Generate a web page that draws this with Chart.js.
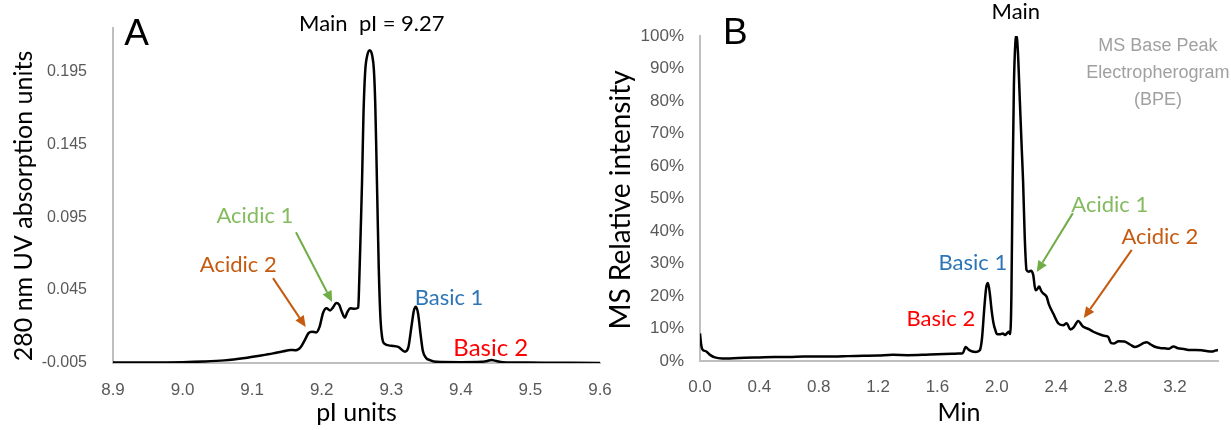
<!DOCTYPE html>
<html>
<head>
<meta charset="utf-8">
<script src="https://cdn.jsdelivr.net/npm/chart.js@4.4.0/dist/chart.umd.min.js"></script>
<style>
  body { margin: 0; background: #fff; }
  #chartA { position: absolute; left: 0; top: 0; }
  #chartB { position: absolute; left: 595px; top: 0; }
</style>
</head>
<body>
<canvas id="chartA" width="615" height="430"></canvas>
<canvas id="chartB" width="636" height="430"></canvas>
<script>
// ---- panel A : UV trace vs pI ----
const pIUnits = [8.900, 8.950, 9.000, 9.030, 9.060, 9.090, 9.110, 9.130, 9.145, 9.155, 9.163, 9.170, 9.176, 9.181,
  9.186, 9.192, 9.197, 9.202, 9.207, 9.212, 9.216, 9.221, 9.225, 9.229, 9.233, 9.237, 9.241, 9.247,
  9.2525, 9.2540, 9.2560, 9.2580, 9.2600, 9.2625, 9.2655, 9.2690, 9.2725, 9.2750, 9.2770, 9.2785,
  9.2800, 9.2820, 9.2845, 9.2870, 9.2895, 9.300, 9.310, 9.3195, 9.3243, 9.3290, 9.3325, 9.3353, 9.3385,
  9.3420, 9.3455, 9.3500, 9.3555, 9.3650, 9.400, 9.430, 9.438, 9.444, 9.451, 9.460, 9.480, 9.520,
  9.560, 9.600];
const uvAbsorbance = [-0.0046, -0.0046, -0.0044, -0.0040, -0.0032, -0.0015, 0.0000, 0.0016, 0.0030, 0.0040, 0.0037, 0.0060, 0.0110, 0.0155,
  0.0165, 0.0160, 0.0200, 0.0295, 0.0325, 0.0310, 0.0330, 0.0362, 0.0350, 0.0300, 0.0262, 0.0300, 0.0325, 0.0322,
  0.0330, 0.0520, 0.0850, 0.1200, 0.1650, 0.1950, 0.2060, 0.2095, 0.2060, 0.1960, 0.1720, 0.1400,
  0.1050, 0.0600, 0.0250, 0.0120, 0.0085, 0.0068, 0.0060, 0.0028, 0.0053, 0.0200, 0.0310, 0.0336, 0.0290,
  0.0150, 0.0030, -0.0015, -0.0030, -0.0042, -0.0044, -0.0042, -0.0036, -0.0030, -0.0036, -0.0044, -0.0046, -0.0048,
  -0.0049, -0.0050];
const pITicks = [8.9, 9.0, 9.1, 9.2, 9.3, 9.4, 9.5, 9.6];
const uvTicks = [-0.005, 0.045, 0.095, 0.145, 0.195];

// ---- panel B : MS base peak vs time ----
const minutes = [0.000, 0.008, 0.016, 0.040, 0.070, 0.100, 0.150, 0.200, 0.300, 0.400, 0.500, 0.600, 0.700, 0.800,
  0.900, 1.000, 1.100, 1.200, 1.300, 1.400, 1.500, 1.600, 1.700, 1.740, 1.770, 1.790, 1.810, 1.830,
  1.860, 1.885, 1.900, 1.915, 1.928, 1.940, 1.952, 1.965, 1.978, 1.990, 2.000, 2.020, 2.040, 2.055,
  2.070, 2.080, 2.090, 2.098, 2.106, 2.115, 2.125, 2.133, 2.142, 2.155, 2.168, 2.177, 2.188, 2.200,
  2.215, 2.230, 2.245, 2.260, 2.270, 2.285, 2.300, 2.312, 2.335, 2.350, 2.380, 2.413, 2.447, 2.470,
  2.496, 2.520, 2.548, 2.580, 2.620, 2.650, 2.705, 2.730, 2.750, 2.770, 2.790, 2.820, 2.860, 2.900,
  2.930, 2.960, 2.990, 3.010, 3.040, 3.070, 3.100, 3.130, 3.160, 3.190, 3.220, 3.260, 3.300, 3.340,
  3.380, 3.420, 3.450, 3.470, 3.490];
const msIntensity = [8.5, 5.0, 3.6, 3.0, 1.8, 1.1, 0.8, 0.8, 1.0, 1.1, 1.2, 1.2, 1.4, 1.4,
  1.4, 1.5, 1.6, 1.7, 1.9, 1.8, 1.9, 2.1, 2.2, 2.3, 2.4, 4.3, 3.5, 3.0,
  2.8, 3.3, 7.0, 16.0, 22.5, 24.0, 21.0, 15.5, 11.5, 9.5, 8.3, 8.2, 8.5, 8.0,
  8.6, 9.0, 8.3, 20.0, 55.0, 85.0, 98.0, 100.0, 95.0, 80.0, 65.0, 55.0, 38.0, 28.0,
  27.5, 27.8, 26.5, 21.8, 22.0, 22.9, 21.5, 20.8, 19.8, 17.5, 14.6, 11.6, 11.0, 11.6,
  9.7, 10.5, 12.3, 10.6, 9.8, 9.0, 8.0, 7.7, 7.4, 5.5, 5.4, 6.1, 6.0, 5.0,
  4.3, 4.8, 5.6, 5.8, 5.0, 4.3, 4.0, 3.9, 3.8, 4.5, 3.9, 3.7, 3.4, 3.4,
  3.3, 3.0, 2.9, 3.2, 3.4];
const minTicks = [0.0, 0.4, 0.8, 1.2, 1.6, 2.0, 2.4, 2.8, 3.2];
const pctTicks = [0, 10, 20, 30, 40, 50, 60, 70, 80, 90, 100];

const GREEN = '#84bb5f', ORANGE = '#c55a11', BLUE = '#2e75b6', RED = '#ff0000';
const LATO = 'Lato, "Noto Sans", sans-serif';
const ARIAL = '"Liberation Sans", Arial, sans-serif';

function drawArrow(ctx, x1, y1, x2, y2, color) {
  const ang = Math.atan2(y2 - y1, x2 - x1), head = 11, wing = 5;
  const bx = x2 - head * Math.cos(ang), by = y2 - head * Math.sin(ang);
  ctx.strokeStyle = color; ctx.fillStyle = color; ctx.lineWidth = 2;
  ctx.beginPath(); ctx.moveTo(x1, y1); ctx.lineTo(bx, by); ctx.stroke();
  ctx.beginPath();
  ctx.moveTo(x2, y2);
  ctx.lineTo(bx + wing * Math.sin(ang), by - wing * Math.cos(ang));
  ctx.lineTo(bx - wing * Math.sin(ang), by + wing * Math.cos(ang));
  ctx.closePath(); ctx.fill();
}

// labels + arrows placed in data units, axis title in pixels
const annotate = {
  id: 'annotate',
  afterDraw(chart, args, opts) {
    const { ctx, scales: { x, y } } = chart;
    ctx.save();
    ctx.textBaseline = 'middle';
    (opts.labels || []).forEach(l => {
      ctx.font = l.font; ctx.fillStyle = l.color; ctx.textAlign = l.align || 'center';
      ctx.fillText(l.text, x.getPixelForValue(l.x), y.getPixelForValue(l.y));
    });
    (opts.arrows || []).forEach(a => {
      drawArrow(ctx, x.getPixelForValue(a.from[0]), y.getPixelForValue(a.from[1]),
        x.getPixelForValue(a.to[0]), y.getPixelForValue(a.to[1]), a.color);
    });
    if (opts.yTitle) {
      const t = opts.yTitle;
      ctx.translate(t.cx, t.cy); ctx.rotate(-Math.PI / 2);
      ctx.font = t.font; ctx.fillStyle = '#000'; ctx.textAlign = 'center';
      ctx.fillText(t.text, 0, 0);
    }
    ctx.restore();
  }
};

function xyPoints(xs, ys) {
  return xs.map((v, i) => ({ x: v, y: ys[i] }));
}

function baseScale(ticks, fmt, size, pad) {
  return {
    type: 'linear',
    afterBuildTicks: s => { s.ticks = ticks.map(v => ({ value: v })); },
    grid: { display: false },
    border: { color: '#bfbfbf', width: 2 },
    ticks: { color: '#595959', font: { family: ARIAL, size: size }, padding: pad,
      autoSkip: false, maxRotation: 0, callback: fmt }
  };
}

// panel A
const xA = baseScale(pITicks, v => v.toFixed(1), 17, 9);
xA.min = 8.9; xA.max = 9.6;
xA.afterFit = s => { s.height = 67; s.paddingLeft = 0; s.paddingRight = 0; };
xA.title = { display: true, text: 'pI units', color: '#000', font: { family: LATO, size: 25 }, padding: { top: 0, bottom: 2 } };
const yA = baseScale(uvTicks, v => v.toFixed(3), 16, 18);
yA.min = -0.005; yA.max = 0.225;
yA.afterFit = s => { s.width = 113; };

new Chart(document.getElementById('chartA'), {
  type: 'line',
  data: { datasets: [{ data: xyPoints(pIUnits, uvAbsorbance), borderColor: '#000', borderWidth: 2.5,
    pointRadius: 0, cubicInterpolationMode: 'monotone', fill: false }] },
  options: {
    responsive: false, animation: false,
    layout: { padding: { left: 0, right: 15, top: 26, bottom: 0 } },
    scales: { x: xA, y: yA },
    plugins: {
      legend: { display: false }, tooltip: { enabled: false },
      annotate: {
        labels: [
          { text: 'A', x: 8.916, y: 0.2203, font: '37px ' + ARIAL, color: '#000', align: 'left' },
          { text: 'Main  pI = 9.27', x: 9.272, y: 0.2275, font: '22px ' + LATO, color: '#000' },
          { text: 'Acidic 1', x: 9.104, y: 0.0957, font: '22px ' + LATO, color: GREEN },
          { text: 'Acidic 2', x: 9.080, y: 0.0621, font: '22px ' + LATO, color: ORANGE },
          { text: 'Basic 1', x: 9.383, y: 0.0395, font: '22px ' + LATO, color: BLUE },
          { text: 'Basic 2', x: 9.443, y: 0.0053, font: '24px ' + LATO, color: RED }
        ],
        arrows: [
          { from: [9.163, 0.0847], to: [9.215, 0.0368], color: '#70ad47' },
          { from: [9.130, 0.0532], to: [9.177, 0.0197], color: ORANGE }
        ],
        yTitle: { text: '280 nm UV absorption units', cx: 24, cy: 206, font: '25px ' + LATO }
      }
    }
  },
  plugins: [annotate]
});

// panel B
const xB = baseScale(minTicks, v => v.toFixed(1), 17, 8);
xB.min = 0; xB.max = 3.49;
xB.afterFit = s => { s.height = 69; s.paddingLeft = 0; s.paddingRight = 0; };
xB.title = { display: true, text: 'Min', color: '#000', font: { family: LATO, size: 25 }, padding: { top: 0, bottom: 2 } };
const yB = baseScale(pctTicks, v => v + '%', 17, 8);
yB.min = 0; yB.max = 100;
yB.afterFit = s => { s.width = 105; };

new Chart(document.getElementById('chartB'), {
  type: 'line',
  data: { datasets: [{ data: xyPoints(minutes, msIntensity), borderColor: '#000', borderWidth: 2.5,
    pointRadius: 0, cubicInterpolationMode: 'monotone', fill: false }] },
  options: {
    responsive: false, animation: false,
    layout: { padding: { left: 0, right: 13, top: 36, bottom: 0 } },
    scales: { x: xB, y: yB },
    plugins: {
      legend: { display: false }, tooltip: { enabled: false },
      annotate: {
        labels: [
          { text: 'B', x: 0.155, y: 100.6, font: '37px ' + ARIAL, color: '#000', align: 'left' },
          { text: 'Main', x: 2.128, y: 107.4, font: '22px ' + LATO, color: '#000' },
          { text: 'MS Base Peak', x: 3.085, y: 97.0, font: '18px ' + ARIAL, color: '#a0a0a0' },
          { text: 'Electropherogram', x: 3.085, y: 88.5, font: '18px ' + ARIAL, color: '#a0a0a0' },
          { text: '(BPE)', x: 3.085, y: 80.3, font: '18px ' + ARIAL, color: '#a0a0a0' },
          { text: 'Acidic 1', x: 2.761, y: 48.0, font: '22px ' + LATO, color: GREEN },
          { text: 'Acidic 2', x: 3.098, y: 38.2, font: '22px ' + LATO, color: ORANGE },
          { text: 'Basic 1', x: 1.838, y: 30.2, font: '22px ' + LATO, color: BLUE },
          { text: 'Basic 2', x: 1.623, y: 12.9, font: '22px ' + LATO, color: RED }
        ],
        arrows: [
          { from: [2.512, 45.5], to: [2.269, 27.4], color: '#70ad47' },
          { from: [2.909, 34.2], to: [2.586, 13.2], color: ORANGE }
        ],
        yTitle: { text: 'MS Relative intensity', cx: 26, cy: 200, font: '28px ' + LATO }
      }
    }
  },
  plugins: [annotate]
});
</script>
</body>
</html>
